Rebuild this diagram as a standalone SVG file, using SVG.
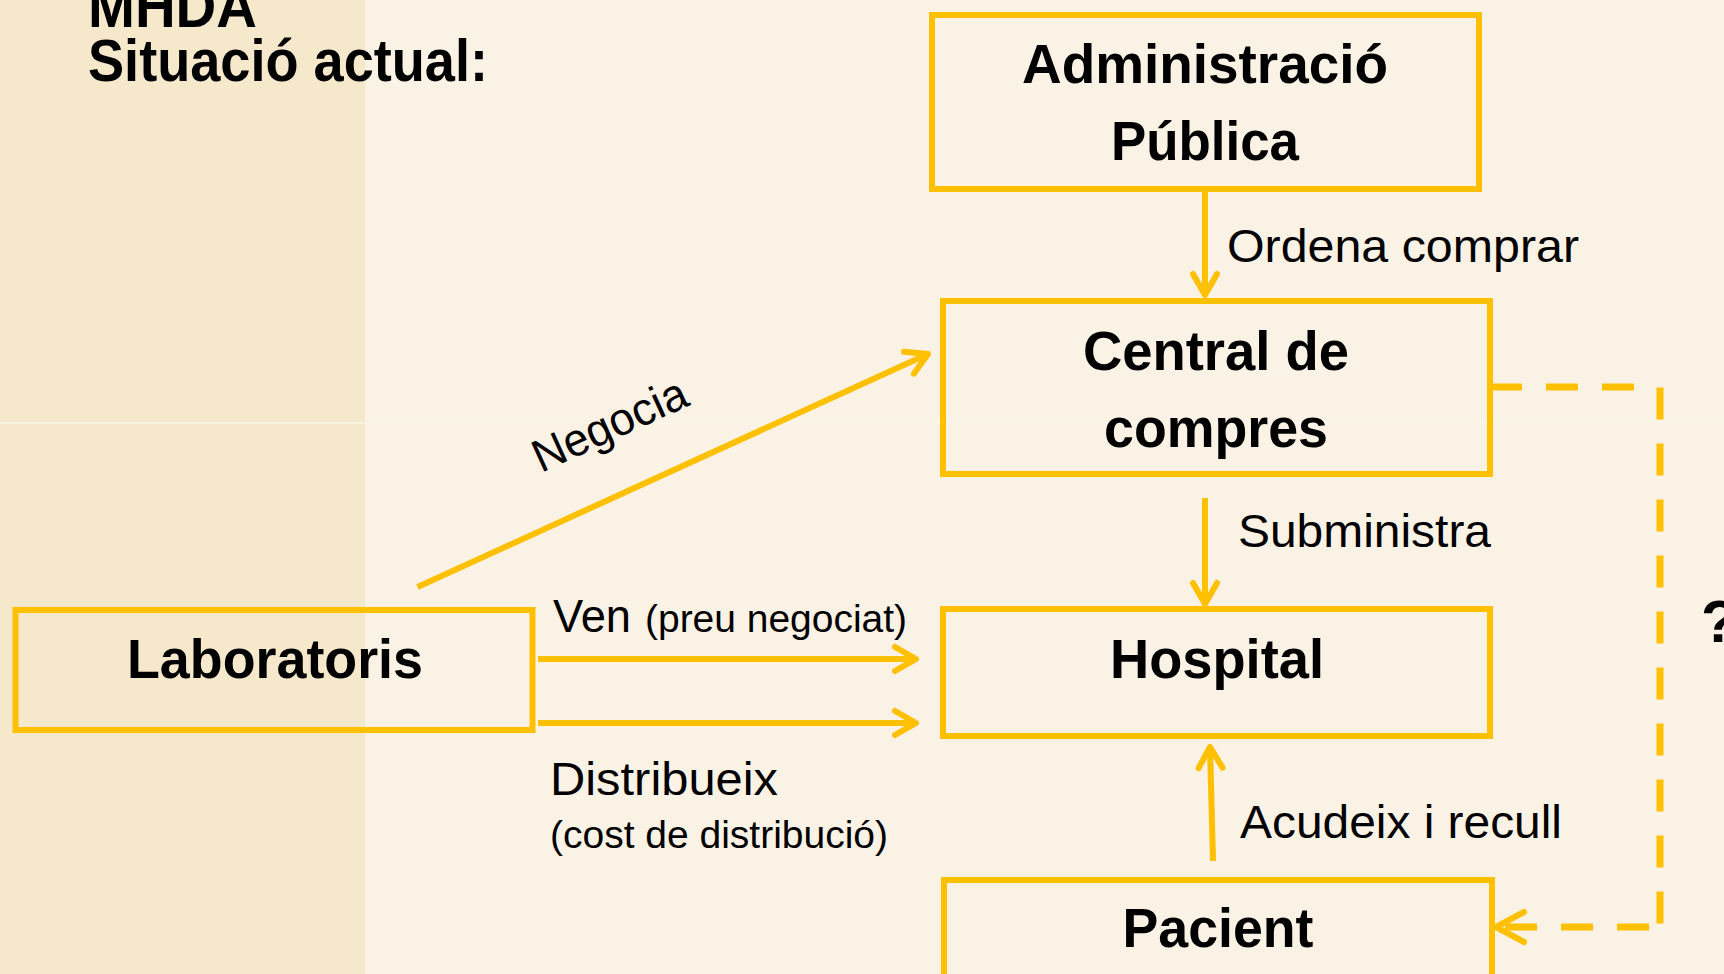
<svg xmlns="http://www.w3.org/2000/svg" width="1724" height="974" viewBox="0 0 1724 974">
  <style>
    .box { fill: none; stroke: #FFC000; stroke-width: 6; }
    .con { fill: none; stroke: #FFC000; stroke-width: 6; }
    .dash { fill: none; stroke: #FFC000; stroke-width: 7; stroke-dasharray: 32 24; }
    .bt { font-family: "Liberation Sans", Arial, sans-serif; font-weight: bold; font-size: 56px; fill: #000; text-anchor: middle; }
    .lt { font-family: "Liberation Sans", Arial, sans-serif; font-size: 46px; fill: #000; }
    .st { font-family: "Liberation Sans", Arial, sans-serif; font-size: 38px; fill: #000; }
    .tt { font-family: "Liberation Sans", Arial, sans-serif; font-weight: bold; font-size: 60px; fill: #000; }
  </style>
  <defs>
    <marker id="arr" markerUnits="userSpaceOnUse" viewBox="-30 -20 40 40" markerWidth="40" markerHeight="40" refX="0" refY="0" orient="auto" overflow="visible">
      <path d="M-21,-12 L0,0 L-21,12" fill="none" stroke="#FFC000" stroke-width="6" stroke-linecap="round" stroke-linejoin="round"/>
    </marker>
    <marker id="arrBig" markerUnits="userSpaceOnUse" viewBox="-40 -20 50 40" markerWidth="50" markerHeight="40" refX="0" refY="0" orient="auto" overflow="visible">
      <path d="M-28,-15 L0,0 L-28,15" fill="none" stroke="#FFC000" stroke-width="6" stroke-linecap="round" stroke-linejoin="round"/>
    </marker>
  </defs>

  <!-- background -->
  <rect x="0" y="0" width="1724" height="974" fill="#FAF2E4"/>
  <rect x="0" y="0" width="365" height="974" fill="#F6E8CB"/>
  <line x1="0" y1="423" x2="1724" y2="423" stroke="#FBF5EB" stroke-width="1.5"/>

  <!-- title -->
  <g id="title">
    <text class="tt" x="88" y="27" textLength="169" lengthAdjust="spacingAndGlyphs">MHDA</text>
    <text class="tt" x="88" y="81" textLength="400" lengthAdjust="spacingAndGlyphs">Situació actual:</text>
  </g>

  <!-- connectors -->
  <g id="connectors">
    <line class="con" x1="1205" y1="192" x2="1205" y2="295" marker-end="url(#arr)"/>
    <text class="lt" x="1227" y="262" textLength="352" lengthAdjust="spacingAndGlyphs">Ordena comprar</text>

    <line class="con" x1="1205" y1="498" x2="1205" y2="604" marker-end="url(#arr)"/>
    <text class="lt" x="1238" y="547" textLength="253" lengthAdjust="spacingAndGlyphs">Subministra</text>

    <line class="con" x1="1213" y1="861" x2="1210" y2="747" marker-end="url(#arr)"/>
    <text class="lt" x="1240" y="838" textLength="322" lengthAdjust="spacingAndGlyphs">Acudeix i recull</text>

    <line class="con" x1="417.5" y1="587" x2="928" y2="354" marker-end="url(#arr)"/>
    <text class="lt" x="0" y="0" transform="translate(541 473) rotate(-24.5)" textLength="165" lengthAdjust="spacingAndGlyphs">Negocia</text>

    <line class="con" x1="538" y1="659" x2="916" y2="659" marker-end="url(#arr)"/>
    <text class="lt" x="553" y="632" textLength="78" lengthAdjust="spacingAndGlyphs">Ven</text>
    <text class="st" x="645" y="632" textLength="262" lengthAdjust="spacingAndGlyphs">(preu negociat)</text>

    <line class="con" x1="538" y1="723" x2="916" y2="723" marker-end="url(#arr)"/>
    <text class="lt" x="550" y="795" textLength="228" lengthAdjust="spacingAndGlyphs">Distribueix</text>
    <text class="st" x="550" y="848" textLength="338" lengthAdjust="spacingAndGlyphs">(cost de distribució)</text>

    <g id="dashed">
      <line class="dash" x1="1490" y1="387" x2="1634" y2="387"/>
      <line class="dash" x1="1660" y1="387.5" x2="1660" y2="924"/>
      <line class="dash" x1="1649" y1="927" x2="1496" y2="927" marker-end="url(#arrBig)"/>
      <text class="tt" x="1701" y="642" font-size="56">?</text>
    </g>
  </g>

  <!-- nodes -->
  <g id="admin">
    <rect class="box" x="932" y="15" width="547" height="174"/>
    <text class="bt" x="1205" y="83" textLength="366" lengthAdjust="spacingAndGlyphs">Administració</text>
    <text class="bt" x="1205" y="160" textLength="188" lengthAdjust="spacingAndGlyphs">Pública</text>
  </g>
  <g id="central">
    <rect class="box" x="943" y="301" width="547" height="173"/>
    <text class="bt" x="1216" y="370" textLength="266" lengthAdjust="spacingAndGlyphs">Central de</text>
    <text class="bt" x="1216" y="447" textLength="224" lengthAdjust="spacingAndGlyphs">compres</text>
  </g>
  <g id="hospital">
    <rect class="box" x="943" y="609" width="547" height="127"/>
    <text class="bt" x="1217" y="678" textLength="214" lengthAdjust="spacingAndGlyphs">Hospital</text>
  </g>
  <g id="laboratoris">
    <rect class="box" x="15.5" y="610" width="517" height="120"/>
    <text class="bt" x="275" y="678" textLength="296" lengthAdjust="spacingAndGlyphs">Laboratoris</text>
  </g>
  <g id="pacient">
    <rect class="box" x="944" y="880" width="548" height="130"/>
    <text class="bt" x="1218" y="947" textLength="191" lengthAdjust="spacingAndGlyphs">Pacient</text>
  </g>
</svg>
